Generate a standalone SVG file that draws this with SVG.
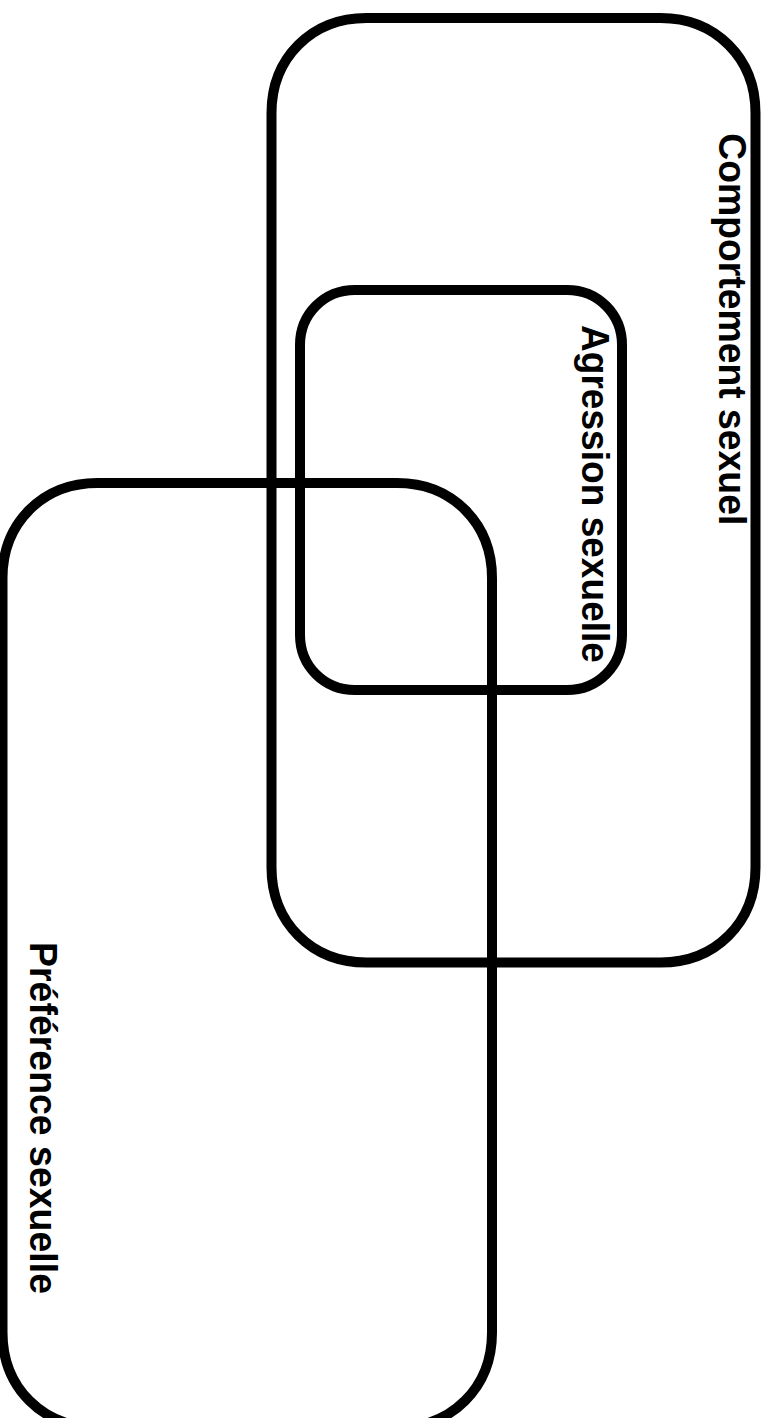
<svg xmlns="http://www.w3.org/2000/svg" width="773" height="1418" viewBox="0 0 773 1418">
<style>
.box{fill:none;stroke:#000;stroke-width:10;stroke-linejoin:round}
.lbl{font-family:"Liberation Sans",Arial,Helvetica,sans-serif;font-weight:bold;font-size:38px;fill:#000}
</style>
<rect width="773" height="1418" fill="#fff"/>
<g id="comportement">
<path class="box" d="M366.5,18 H660.5 C715.5,18 755.5,58 755.5,113 V867.5 C755.5,922.5 715.5,962.5 660.5,962.5 H366.5 C311.5,962.5 271.5,922.5 271.5,867.5 V113 C271.5,58 311.5,18 366.5,18 Z"/>
<text class="lbl" transform="translate(718.5,133.3) rotate(90)" x="0" y="0" textLength="392" lengthAdjust="spacingAndGlyphs">Comportement sexuel</text>
</g>
<g id="agression">
<path class="box" d="M355,290 H567 C598,290 622,314 622,345 V635 C622,666 598,690 567,690 H355 C324,690 300,666 300,635 V345 C300,314 324,290 355,290 Z"/>
<text class="lbl" transform="translate(582,325) rotate(90)" x="0" y="0" textLength="338" lengthAdjust="spacingAndGlyphs">Agression sexuelle</text>
</g>
<g id="preference">
<path class="box" d="M97.5,483 H397 C452,483 492,523 492,578 V1332.5 C492,1387.5 452,1427.5 397,1427.5 H97.5 C42.5,1427.5 2.5,1387.5 2.5,1332.5 V578 C2.5,523 42.5,483 97.5,483 Z"/>
<text class="lbl" transform="translate(29.5,942) rotate(90)" x="0" y="0" textLength="352" lengthAdjust="spacingAndGlyphs">Préférence sexuelle</text>
</g>
<g id="connectors"></g>
</svg>
